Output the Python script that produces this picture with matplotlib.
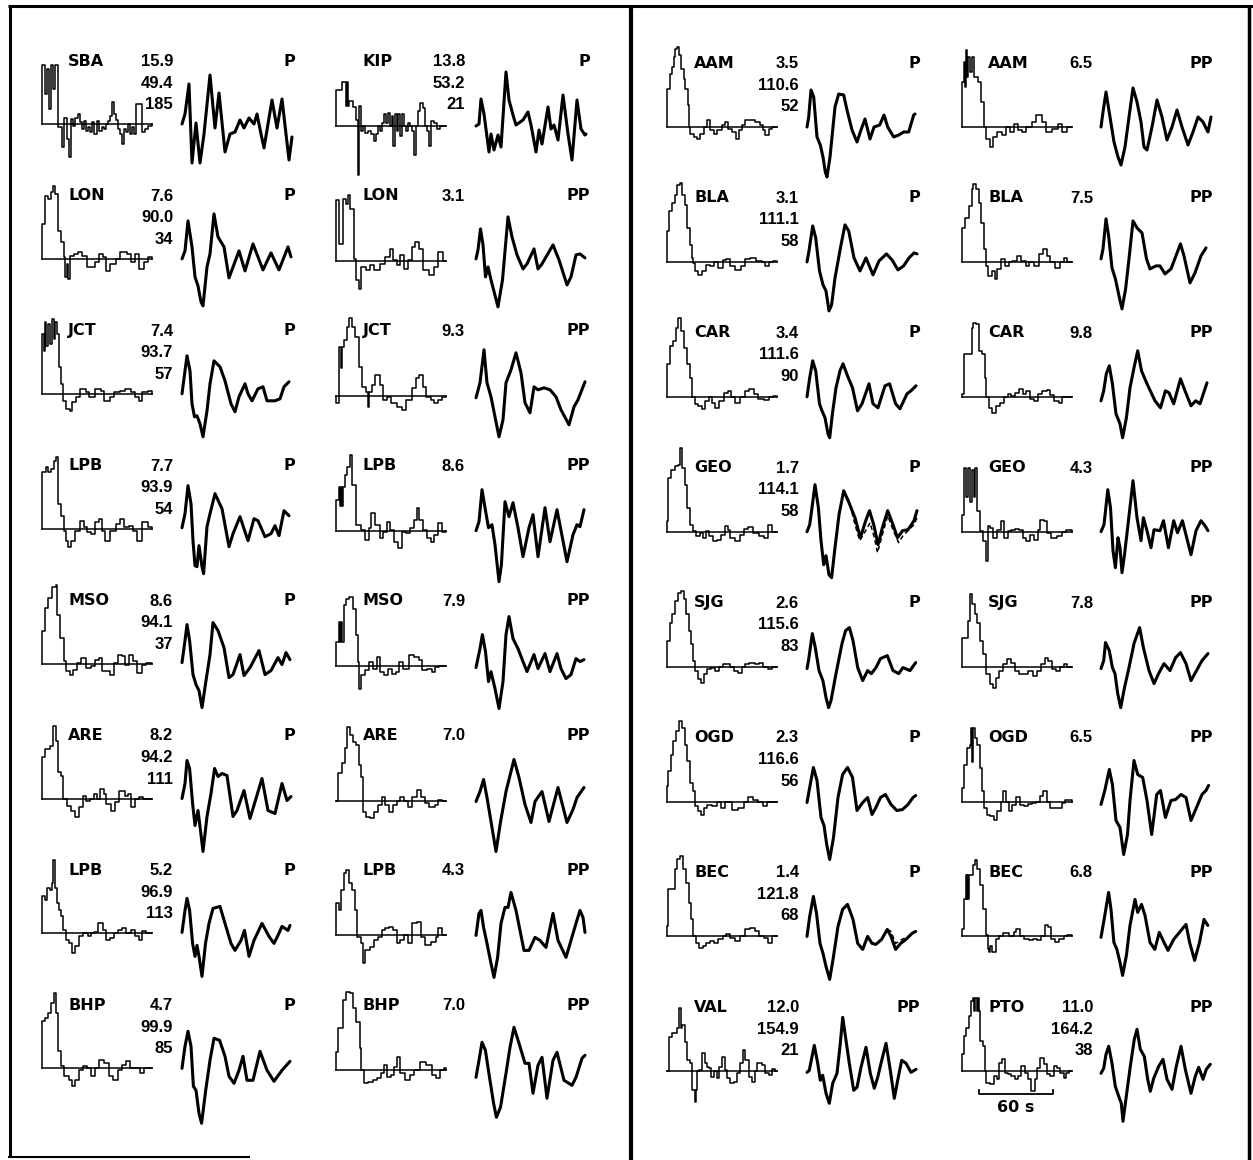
import matplotlib
matplotlib.use('Agg')
import matplotlib.pyplot as plt

W, H = 1253, 1160

# ---- station labels ----
col1_names = ['SBA', 'LON', 'JCT', 'LPB', 'MSO', 'ARE', 'LPB', 'BHP']
col2_names = ['KIP', 'LON', 'JCT', 'LPB', 'MSO', 'ARE', 'LPB', 'BHP']
col3_names = ['AAM', 'BLA', 'CAR', 'GEO', 'SJG', 'OGD', 'BEC', 'VAL']
col4_names = ['AAM', 'BLA', 'CAR', 'GEO', 'SJG', 'OGD', 'BEC', 'PTO']

col1_info = [('15.9', '49.4', '185'), ('7.6', '90.0', '34'), ('7.4', '93.7', '57'),
             ('7.7', '93.9', '54'), ('8.6', '94.1', '37'), ('8.2', '94.2', '111'),
             ('5.2', '96.9', '113'), ('4.7', '99.9', '85')]
col2_info = [('13.8', '53.2', '21'), ('3.1',), ('9.3',), ('8.6',), ('7.9',), ('7.0',),
             ('4.3',), ('7.0',)]
col3_info = [('3.5', '110.6', '52'), ('3.1', '111.1', '58'), ('3.4', '111.6', '90'),
             ('1.7', '114.1', '58'), ('2.6', '115.6', '83'), ('2.3', '116.6', '56'),
             ('1.4', '121.8', '68'), ('12.0', '154.9', '21')]
col4_info = [('6.5',), ('7.5',), ('9.8',), ('4.3',), ('7.8',), ('6.5',), ('6.8',),
             ('11.0', '164.2', '38')]

col1_phase = ['P'] * 8
col2_phase = ['P'] + ['PP'] * 7
col3_phase = ['P'] * 7 + ['PP']
col4_phase = ['PP'] * 8

# ---- source time functions: (time, amplitude) steps ----
col1_stf = [
    [(0, 59), (3, 30), (5, 55), (7, 15), (9, 59), (11, 35), (13, 59), (16, -3), (20, -23), (22, 6),
     (25, -15), (27, -33), (29, 5), (31, -2), (33, 6), (36, 10), (38, 2), (40, -5), (42, 3), (44, -7),
     (46, -3), (48, -8), (50, 2), (52, -10), (55, 3), (57, -7), (60, -3), (62, -5), (64, 0), (66, 3),
     (68, 8), (70, 22), (72, 10), (74, 4), (76, -5), (78, -10), (80, -20), (82, -5), (84, -8), (86, 0),
     (88, -10), (90, -3), (92, -10), (94, 20), (100, -8), (103, -5), (106, -2)],
    [(0, 35), (3, 63), (6, 60), (9, 67), (11, 73), (13, 65), (16, 28), (19, 17), (22, 2), (23, -18),
     (25, -5), (26, -20), (28, 3), (32, 5), (36, 7), (40, 3), (45, -8), (53, -3), (57, 5), (61, 2),
     (64, -12), (68, -5), (74, 0), (78, 7), (85, 5), (89, -3), (93, 5), (97, -10), (102, -3), (106, 2)],
    [(0, 60), (2, 43), (3, 72), (4, 48), (6, 70), (8, 50), (10, 75), (12, 55), (13, 72), (15, 60),
     (17, 27), (19, 10), (21, -7), (24, -15), (28, -17), (30, -8), (34, -3), (38, 5), (44, 2), (47, -3),
     (53, 5), (59, 3), (62, -7), (68, -3), (72, 2), (78, 3), (83, 5), (89, 2), (93, -3), (97, -7),
     (100, 2), (106, 3)],
    [(0, 57), (4, 62), (6, 57), (9, 60), (12, 68), (14, 72), (16, 25), (19, 13), (22, -2), (24, -12),
     (26, -18), (29, -12), (33, -2), (38, 8), (42, 2), (45, -3), (49, -5), (53, 7), (57, 10), (60, -2),
     (63, -12), (68, -2), (74, 5), (78, 10), (82, 2), (87, 3), (91, -2), (95, -12), (100, 7), (106, 2)],
    [(0, 33), (3, 56), (6, 66), (10, 77), (14, 79), (15, 49), (18, 26), (22, 3), (24, -7), (28, -11),
     (31, -6), (35, 1), (39, 6), (44, -4), (49, -2), (53, 4), (57, 6), (60, -7), (64, -7), (68, -11),
     (72, 1), (76, 9), (80, 8), (83, -1), (87, 9), (91, 3), (95, -9), (100, -1), (104, 1)],
    [(0, 42), (3, 50), (8, 53), (11, 73), (14, 58), (16, 27), (19, 23), (21, 0), (25, -7), (29, -12),
     (33, -18), (37, -8), (41, 3), (44, -2), (48, 0), (52, 5), (55, 0), (58, 10), (62, 5), (64, -5),
     (69, -12), (73, -3), (77, 8), (83, 3), (86, 5), (89, -8), (93, 0), (97, 2), (101, 0)],
    [(0, 37), (3, 33), (5, 45), (8, 43), (10, 50), (11, 73), (13, 45), (15, 30), (17, 23), (19, 17),
     (21, 3), (24, -7), (27, -10), (30, -20), (33, -13), (37, -3), (41, 0), (46, -3), (49, 0), (52, 1),
     (56, 10), (61, 3), (64, -7), (68, -5), (72, 0), (76, 3), (80, 5), (84, 0), (89, 3), (93, -3),
     (97, -7), (100, 2), (104, 0)],
    [(0, 47), (3, 50), (6, 55), (9, 65), (12, 75), (14, 55), (16, 17), (19, 2), (22, -8), (27, -12),
     (30, -18), (33, -12), (37, -2), (41, 2), (45, 0), (49, -8), (53, 0), (57, 8), (62, 5), (67, -8),
     (71, -12), (76, -2), (80, 3), (84, 7), (88, 0), (92, 0), (98, -5), (102, 0)],
]

col2_stf = [
    [(0, 36), (6, 44), (10, 20), (11, 44), (12, 20), (13, 25), (17, 19), (20, 6), (22, -49), (23, 20),
     (25, -5), (27, 0), (29, -7), (32, -5), (35, -8), (38, -15), (40, -8), (42, 0), (44, -5), (46, 3),
     (48, 12), (50, 3), (52, 13), (54, 0), (56, 10), (57, -20), (59, 12), (61, -5), (62, 12), (64, -10),
     (66, 12), (68, 0), (70, -5), (72, 3), (74, 0), (76, -5), (78, -29), (80, 0), (82, 15), (84, 23),
     (87, 18), (89, 0), (91, -5), (93, -20), (95, 5), (98, 3), (101, -3), (104, 0)],
    [(0, 61), (3, 17), (7, 62), (9.5, 57), (12, 66), (14, 52), (18, 2), (20, -19), (23, -28), (25, -6),
     (30, -9), (34, -4), (38, -9), (44, -3), (49, 4), (54, 12), (57, 1), (61, -4), (64, 6), (68, -8),
     (72, 1), (76, 14), (79, 19), (83, 12), (87, -9), (93, -14), (98, -6), (102, 9), (107, 0)],
    [(0, -7), (3, 49), (5, 28), (6, 49), (8, 56), (11, 69), (13, 78), (16, 69), (19, 59), (23, 29),
     (26, 9), (30, 4), (32, -11), (33, 4), (36, 11), (39, 21), (44, 11), (47, -4), (51, -1), (55, -7),
     (61, -11), (66, -14), (70, -4), (76, 8), (80, 18), (83, 21), (87, 9), (90, -1), (95, -4),
     (98, -7), (102, -4), (106, -1)],
    [(0, 31), (3, 44), (4, 25), (5, 44), (6, 25), (7, 44), (9, 56), (11, 64), (14, 76), (16, 46),
     (20, 6), (25, 1), (29, -9), (33, 3), (35, 18), (39, 6), (44, -7), (47, -1), (51, 9), (54, 1),
     (58, -11), (62, -17), (66, -1), (70, -2), (74, 3), (78, 11), (81, 23), (83, 11), (87, 1), (91, -7),
     (95, -11), (98, -4), (102, 8), (106, -1)],
    [(0, 24), (3, 44), (4, 24), (5, 44), (6, 24), (8, 61), (10, 67), (13, 69), (17, 57), (20, 31),
     (22, 4), (23, -23), (25, -9), (29, -4), (33, 4), (37, -3), (41, 9), (44, -6), (48, -9), (52, -3),
     (56, -8), (60, -6), (63, 4), (67, -3), (73, 11), (78, 9), (83, 6), (86, -4), (91, -3), (96, -6),
     (99, -1), (103, 0)],
    [(0, 0), (2, 28), (6, 38), (9, 53), (11, 74), (14, 66), (17, 59), (20, 56), (23, 36), (25, 24),
     (27, -11), (30, -16), (34, -17), (38, -11), (42, -4), (46, 4), (49, -4), (53, -11), (57, -4),
     (61, 0), (64, 4), (68, 0), (72, -6), (76, 4), (81, 11), (85, 4), (89, -2), (93, -6), (99, -4),
     (102, 1), (106, 0)],
    [(0, 32), (3, 25), (5, 45), (8, 62), (9.5, 65), (12.5, 52), (16, 45), (19, 25), (21, -2), (25, -8),
     (27, -28), (28.5, -15), (34, -12), (38, -5), (42, -2), (46, 5), (49, 7), (53, 8), (57, 5),
     (61, -8), (64, -5), (68, 0), (72, -8), (76, 12), (81, 13), (85, -2), (89, -10), (95, -7),
     (100, -2), (102, 7), (106, 0)],
    [(0, 18), (2, 42), (7, 70), (10, 78), (14, 77), (17, 62), (20, 48), (24, 22), (25, 0), (28, -13),
     (32, -12), (37, -10), (41, -8), (45, -3), (48, 5), (51, -7), (55, -5), (58, 3), (61, 13),
     (64, -3), (69, -10), (74, -5), (78, 0), (84, 8), (90, 5), (96, -5), (100, -8), (104, 0), (108, 2)],
]

col3_stf = [
    [(0, 38), (3, 53), (5, 60), (7, 70), (8, 78), (10, 80), (12, 72), (14, 58), (17, 48), (18, 38),
     (21, 22), (22, 0), (23, -7), (27, -10), (30, -12), (33, -7), (37, 0), (40, 7), (43, -3), (47, -7),
     (50, -3), (55, 2), (58, 5), (61, -2), (65, -5), (69, -12), (72, -3), (75, 2), (78, 7), (83, 7),
     (88, 5), (93, 2), (96, -3), (98, -8), (102, -2), (105, 0)],
    [(0, 31), (2, 51), (5, 59), (8, 67), (10, 77), (13, 79), (15, 67), (18, 57), (20, 34), (23, 17),
     (25, 4), (26.5, -1), (28, -9), (31, -13), (35, -9), (39, -3), (43, -4), (47, 0), (51, -6), (56, 2),
     (59, 3), (62.5, -4), (68, -8), (74, -4), (78, 3), (83, 4), (89, 1), (95, 0), (98, -4), (102, 0),
     (106, 1)],
    [(0, 33), (3, 51), (6, 56), (9.5, 69), (11, 79), (14, 66), (17, 49), (20, 33), (23, 19), (25, 0),
     (28, -7), (31, -9), (35, -12), (38, -4), (42, 0), (45.5, -6), (48, -11), (52, -4), (57, 4),
     (61, 6), (64, 0), (68, -6), (73, 0), (78, 6), (82, 8), (87, 3), (91, -2), (97, -3), (102, 0),
     (106, 1)],
    [(0, 11), (1.5, 54), (4, 62), (7.6, 66), (11, 67), (13, 84), (15, 64), (18, 47), (20.5, 24),
     (23.5, 7), (26.5, 1), (29, -4), (33, -1), (35.6, -6), (38.6, 1), (42, -4), (46, -9), (50, -8),
     (54, -3), (57.6, 6), (60.6, 2), (63, -6), (68, -9), (72.7, -3), (77, 3), (81, 5), (86, -1),
     (91.7, -4), (97, -6), (101, 7), (105, 0)],
    [(0, 26), (3, 44), (5, 53), (8, 66), (11, 74), (14, 76), (17, 68), (19, 53), (21.6, 36), (24, 23),
     (26.5, 6), (28, -4), (31, -12), (34, -16), (36.7, -7), (40.5, -2), (44, -1), (48, -4), (52, 0),
     (56, 3), (59.5, 3), (63, 0), (67, -4), (71, -6), (74.6, 0), (78.4, 3), (82, 4), (88, 3),
     (91.7, 4), (95.5, 0), (101, -2), (105, 0)],
    [(0, 16), (1.5, 31), (4, 47), (6.4, 61), (9, 71), (12, 81), (15, 74), (18, 57), (20.5, 41),
     (23.5, 19), (26.5, 11), (28, -4), (31, -9), (34, -13), (36.7, -6), (40.5, -3), (45.5, -4),
     (50, 0), (54, -6), (57.6, 0), (61.4, 0), (65, -8), (70.8, -6), (76.5, 0), (81, 5), (86, 2),
     (91, 0), (95.5, -4), (100, 0), (105, 0)],
    [(0, 10), (1.5, 47), (4.5, 47), (7.6, 67), (10, 77), (13, 80), (16, 67), (19, 53), (21.6, 33),
     (24, 17), (26.5, 0), (29, -7), (32, -12), (35.6, -10), (39.4, -7), (43, -5), (47, -7), (51, -3),
     (55.7, 0), (59.5, 2), (63, -2), (68, -5), (72.7, 0), (78.4, 7), (83.3, 8), (88, 5), (92.4, 0),
     (97, -2), (101, -7), (105, 0)],
    [(0, 0), (2.3, 34), (5, 38), (10, 43), (12.3, 63), (14, 43), (15, 46), (17.7, 29), (20, 11),
     (23.3, 8), (25, -19), (27.7, -31), (29, -19), (30, 0), (31.7, 1), (35, 18), (37.7, 8), (40, 4),
     (41.7, 3), (44.3, -6), (46.7, 0), (50, -7), (52.3, 4), (55, 14), (57.7, 1), (60, -7), (63.3, -12),
     (66.7, -11), (70, -2), (73.3, 8), (75.7, 21), (78.3, 11), (81.7, -6), (85, -11), (87.7, 0),
     (90, 8), (95, 6), (98.3, -2), (101.7, -4), (105, 2), (107.7, 0)],
]

col4_stf = [
    [(0, 45), (2, 65), (3, 40), (4, 77), (5, 50), (6, 70), (8, 55), (10, 70), (12, 50), (16, 45),
     (19, 25), (22, 0), (24, -12), (28, -20), (31, -10), (35, -5), (40, -8), (44, 0), (48, -5),
     (52, 3), (56, -3), (60, -5), (64, 0), (70, 5), (74, 12), (80, 5), (84, -5), (90, -2), (96, 3),
     (100, -5), (105, 0)],
    [(0, 34), (3, 44), (7, 56), (10, 73), (11.4, 78), (14.4, 73), (17.4, 59), (19, 39), (22, 13),
     (24, -4), (25.8, -14), (29.5, -9), (32.6, -17), (35, -7), (39, 3), (43, -4), (46.6, 0), (50, 1),
     (55, 6), (59, 1), (63.6, -4), (67.4, 0), (72, -4), (77, 8), (80.7, 13), (84.5, 6), (88, 0),
     (93, -6), (97.7, 0), (101.5, 4), (105, 0)],
    [(0, 3), (2, 43), (5.7, 43), (9.5, 69), (11.4, 74), (14, 73), (17, 46), (20, 43), (22.7, 19),
     (24, 0), (26.5, -11), (30, -16), (34, -9), (38, -6), (41.7, 0), (45.5, 3), (49, 1), (53, 4),
     (57, 8), (60.6, 3), (64, 6), (68, -2), (72, -4), (76, 3), (79.5, 6), (84.5, 7), (88, 2),
     (92, -4), (96.6, -6), (100, 0)],
    [(0, 17), (2, 64), (4, 35), (6, 64), (8, 30), (10, 62), (12, 35), (13, 64), (15, 21), (17.8, 1),
     (21, -9), (24, -29), (25.8, 6), (28.4, 4), (31.4, -6), (35, 2), (39, 11), (41.7, -6), (45.5, 1),
     (49, 2), (53, 3), (57, 2), (60.6, -6), (64.4, -9), (68, -3), (72, -8), (76, 2), (77.7, 12),
     (82, 11), (84.5, -1), (89, -6), (94.7, -4), (100, 0), (104, 2)],
    [(0, 29), (6, 46), (7.6, 73), (10, 63), (12.5, 53), (15, 44), (18, 26), (21, 13), (24, -7),
     (27.7, -17), (31.4, -21), (34, -11), (37, -4), (41, 3), (44.7, 8), (48.5, 4), (53, -4), (57, -7),
     (61.7, -7), (65.5, -4), (70.5, -9), (75, -4), (78.8, 3), (82.6, 9), (86, 6), (90, -2), (94, -4),
     (97.7, 0), (101.5, 3), (105, 0)],
    [(0, 14), (2, 37), (5, 54), (7.6, 57), (9, 74), (10, 40), (11, 74), (12.5, 64), (15, 57),
     (17.8, 34), (20, 11), (21.6, -6), (24.6, -13), (28.4, -14), (32, -18), (35, -9), (39, 0),
     (40.5, 11), (43.6, 0), (46.6, -9), (50, -3), (54, 5), (58, -3), (61.7, -4), (66, -2), (70, -1),
     (74, 0), (77.7, 6), (80.7, 11), (84.5, 0), (88, -6), (94.7, -6), (100, -1), (103, 2)],
    [(0, 7), (2.3, 37), (3.8, 61), (4.5, 37), (5.3, 61), (6, 37), (7, 61), (10.6, 71), (13, 76),
     (15, 67), (18, 51), (21, 27), (24, 1), (25.8, -13), (27, -16), (28.4, -10), (29.5, -16),
     (34, -3), (37, 0), (41, 3), (46.6, 0), (51.5, 4), (54, 7), (58, 0), (61.7, -3), (66.7, -4),
     (71, -3), (75, -4), (78.8, 0), (82.6, 11), (86, 9), (89, -3), (93, -6), (97, -3), (101.5, 0),
     (105, 1)],
    [(0, 17), (1.7, 35), (4, 43), (6.7, 55), (9.3, 70), (10.7, 73), (12, 60), (13.3, 73), (15, 60),
     (16, 73), (16.7, 60), (18.3, 30), (20.7, 25), (22.7, 0), (24, -12), (28.3, -13), (31.7, -5),
     (35, -8), (36.7, 8), (40, 12), (42.7, -2), (46, -3), (49.3, -5), (52.7, -8), (56, -5), (59.3, 5),
     (62.7, -2), (66, -8), (69.3, -20), (72.7, -8), (75, 3), (78.3, 13), (81.7, 7), (85, -3),
     (88.3, -5), (91.7, 5), (95, 3), (98.3, -2), (101.7, -7), (104, -2), (106.7, 0)],
]

# ---- observed seismograms: (time, amplitude) ----
col1_wave = [
    [(0, 0), (3, 10), (7, 40), (10, -39), (14, 1), (18, -39), (22, -10), (28, 49), (33, -4), (37, 31),
     (43, -28), (48, -10), (53, -8), (58, 4), (62, -4), (67, 6), (72, 0), (75, 10), (79, -10),
     (82, -24), (90, 24), (95, -4), (100, 25), (104, -10), (107, -36), (110, -13)],
    [(0, 0), (3, 8), (6, 38), (10, 12), (13, -18), (16, -27), (19, -43), (21, -47), (25, -8), (28, 5),
     (32, 45), (36, 22), (42, 12), (47, -19), (57, 8), (63, -12), (71, 15), (81, -11), (89, 6),
     (97, -11), (106, 12), (109, 2)],
    [(0, 0), (3, 23), (5, 38), (8, 23), (10, -10), (12.5, -23), (15, -22), (18, -30), (21, -43),
     (25, -17), (28, 10), (32, 33), (38, 27), (43, 13), (49, -10), (53, -18), (57, -3), (63, 10),
     (66, 0), (70, -7), (76, 5), (81, 7), (85, -7), (93, -7), (98, -5), (102, 7), (107, 12)],
    [(0, 1), (3, 15), (6, 43), (9, 25), (11, -12), (13, -37), (15, -38), (17, -17), (20, -38),
     (21.6, -45), (25, 2), (28, 15), (33, 35), (40, 20), (47, -18), (51, -5), (58, 12), (62, 0),
     (66, -12), (72, 10), (76, 8), (83, -8), (89, -5), (93, 3), (97, -7), (102, 18), (107, 13)],
    [(0, 1), (3, 23), (5, 39), (7.6, 23), (11, -11), (14, -21), (17, -27), (20, -44), (24, -17),
     (28, 9), (31, 41), (36, 33), (42, 16), (47, -14), (51, -11), (58, 9), (62, -12), (68, -4),
     (77, 13), (83, -11), (89, -7), (96, 6), (100, -1), (104, 11), (108, 4)],
    [(0, 0), (3, 15), (5, 38), (7.6, 30), (10.6, -5), (13, -27), (16, -12), (18, -28), (21, -53),
     (25, -18), (29, 5), (32.6, 30), (36, 22), (40, 25), (45, 23), (51, -18), (55, -12), (62, 8),
     (68, -20), (80, 20), (86, -12), (93, -15), (100, 15), (105, -2), (109, 2)],
    [(0, 1), (3, 23), (5, 35), (7.6, 23), (10.6, -10), (13, -23), (15, -12), (17, -23), (20, -43),
     (23.5, -10), (27, 10), (31, 25), (38, 27), (43, 10), (49, -10), (53, -17), (59, -7), (62.5, 3),
     (67, -23), (72, -7), (80, 10), (87, -3), (92, -10), (95.5, -3), (100, 7), (106, 3), (108, 8)],
    [(0, 0), (3, 22), (6, 37), (9, 22), (11.4, -18), (14, -22), (17, -45), (19.6, -55), (23.7, -22),
     (28, 8), (32, 30), (37.6, 28), (43, 12), (47, -8), (52, -15), (57, -2), (61, 12), (65, -12),
     (71, -12), (78, 17), (85, -2), (92, -13), (100, -2), (108, 7)],
]

col2_wave = [
    [(0, 0), (3, 2), (5, 27), (8, 12), (13, -26), (15, -8), (18, -24), (22, -9), (25, -21), (30, 54),
     (33, 26), (37, 11), (40, 1), (47, 6), (52, 14), (55, 1), (60, -26), (63, -4), (66, -18), (72, 19),
     (75, -3), (78, 1), (82, -14), (87, 31), (92, -8), (96, -34), (101, 26), (105, -3), (109, -9),
     (110, -8)],
    [(0, 2), (2, 11), (4.5, 32), (7, 16), (9.5, -16), (12, -6), (15, -19), (22, -46), (26.5, -19),
     (32, 44), (36, 24), (41, 6), (47, -8), (51, -3), (58, 12), (62, -8), (66, -3), (77, 16), (83, 1),
     (91, -24), (95, -16), (100, 6), (104, 7), (109, 3)],
    [(0, -2), (4, 13), (8, 46), (11, 13), (15, -1), (19, -21), (23, -41), (27, -24), (30, 13), (35, 26),
     (40, 43), (45, 23), (49, -7), (54, -17), (58, 9), (62, 6), (68, 8), (74, 6), (80, -1), (85, -14),
     (93, -29), (98, -11), (102, -4), (109, 14)],
    [(0, 0), (3, 9), (6, 41), (9, 23), (12.5, 3), (16, 6), (19, -14), (23, -51), (25.4, -34), (29, 29),
     (33, 14), (37, 28), (42, 3), (47, -26), (53, 3), (57, 16), (62, -26), (69, 23), (74, -11),
     (81, 21), (91, -31), (97, -4), (101, 6), (104, 4), (108, 21)],
    [(0, -2), (4, 17), (6.4, 31), (9.5, 14), (12.5, -16), (15, -6), (19, -23), (23, -43), (27, -16),
     (30, 31), (33, 49), (37, 27), (42, 17), (47, 4), (51, -6), (58, 11), (62, -3), (69, 12), (74, -6),
     (81, 12), (85, -3), (90, -13), (95, -9), (100, 7), (104, 4), (108, 6)],
    [(0, -1), (4, 9), (7.6, 21), (11, 3), (15, -21), (20, -51), (24.6, -21), (30, 9), (38, 41),
     (43, 23), (49, -4), (55, -22), (59, -1), (66, 9), (73, -21), (82, 13), (91, -22), (97, -9),
     (101, 3), (108, 13)],
    [(0, 0), (3, 22), (5, 25), (7.6, 8), (11, -8), (15, -28), (18, -42), (21.6, -22), (25, 12),
     (29, 28), (32, 28), (35, 43), (40, 25), (44, 5), (48, -15), (53, -15), (59, -2), (64, -5),
     (70, -12), (77, 22), (82, -5), (90, -22), (95, -5), (100, 12), (104, 25), (107, 18), (109, 3)],
    [(0, -7), (3, 10), (6, 28), (9.4, 20), (13.5, -7), (17.6, -33), (20.4, -47), (24.5, -37), (30, -3),
     (34, 23), (38, 43), (43, 27), (49, 7), (53, 7), (57, -23), (62, 5), (66, 13), (71, -28), (77, 10),
     (81, 18), (88, -10), (96, -15), (100, -7), (106, 12), (109, 15)],
]

col3_wave = [
    [(0, 0), (1.7, 10), (4, 37), (6.7, 30), (10, -10), (13.3, -18), (16, -30), (18.3, -45), (20, -50),
     (23, -30), (28, 20), (31.7, 33), (36.7, 32), (40, 17), (45, -3), (50, -15), (54, -3), (58, 8),
     (63, -12), (67, 0), (72.7, 2), (77, 12), (80.7, 0), (86.7, -10), (91.7, -8), (96.7, -5),
     (101.7, -5), (106.7, 12), (108, 13)],
    [(0, 0), (2, 11), (5.7, 36), (8.7, 24), (12.5, -9), (16, -23), (19, -29), (22, -49), (24.6, -43),
     (28, -16), (34, 17), (38, 37), (41.7, 31), (47, 4), (53, -9), (59, 4), (66, -13), (72, 1),
     (79.5, 8), (85, 2), (91, -8), (96.6, -4), (102, 4), (107, 9), (110, 8)],
    [(0, 0), (2.7, 19), (5.7, 36), (8.7, 26), (12.5, -7), (15, -14), (18, -21), (21, -37), (22.7, -41),
     (25.4, -17), (29, 9), (33, 26), (36, 33), (40.5, 21), (45.5, 9), (50.5, -14), (55, -7), (62, 13),
     (66, -7), (71, -11), (78, 11), (82.6, 13), (88.6, -7), (93, -12), (100, 3), (104, 6), (109, 11)],
    [(0, 0), (2.7, 7), (5, 24), (8, 47), (11.4, 24), (14, -9), (16.7, -33), (19, -24), (22, -43),
     (24.6, -46), (28, -16), (32, 17), (36.7, 41), (42, 29), (48, 14), (53.4, -6), (58.7, 11),
     (62.5, 21), (67, 6), (71, -13), (75.4, 4), (80.7, 21), (86, 7), (90.5, -6), (95.6, 1), (101, 2),
     (107, 11), (110, 21)],
    [(0, -2), (1.5, 6), (5.3, 33), (8.3, 19), (12, -4), (15.9, -14), (19, -31), (21.6, -41), (24, -34),
     (29, -7), (35, 23), (38.6, 36), (42.4, 39), (46, 26), (50.7, -1), (55.7, -14), (60.6, -4),
     (64.4, -7), (69, -1), (73.5, 8), (80.3, 11), (86, -4), (91.7, -7), (96, -1), (103, -4),
     (108.7, 4)],
    [(0, -1), (2.7, 14), (6.4, 34), (10, 21), (14, -16), (17, -24), (19.7, -43), (22.7, -58),
     (26.5, -36), (31, 4), (35.6, 27), (40.5, 34), (45.5, 24), (50, -9), (55.7, -1), (60.6, 4),
     (65, -13), (68.9, -6), (73.5, 4), (78.4, 7), (84, -3), (89.8, -9), (95.5, -8), (101, -3),
     (106, 4), (108.7, 6)],
    [(0, 0), (2.7, 20), (6.4, 40), (9.5, 23), (13, -7), (16, -17), (19, -30), (22.7, -43), (26.5, -20),
     (31, 10), (35.6, 27), (40.5, 32), (46, 17), (50.7, -7), (55.7, -13), (60.6, 0), (65, -7),
     (68.9, -8), (74.6, -3), (80.3, 7), (84, 0), (88.6, -13), (93.6, -7), (99, -3), (105, 3),
     (108.7, 5)],
    [(0, -1), (2.3, 1), (4.7, 13), (7.3, 26), (10.7, 8), (13.3, -9), (15.7, -4), (19, -22), (22.3, -32),
     (25.7, -12), (30, -2), (33.3, 28), (35.7, 54), (39, 31), (42.3, 8), (46.7, -19), (50, -16),
     (54, 4), (59, 24), (63.3, -2), (67.3, -17), (70.7, -6), (74, 8), (79, 28), (83.3, 1), (87.3, -27),
     (90.7, -9), (94.7, 11), (99, 8), (104, -1), (109, 2)],
]

col4_wave = [
    [(0, 0), (2, 15), (5, 35), (9, 10), (13, -15), (17, -30), (20, -38), (24, -20), (28, 10), (32, 39),
     (36, 25), (40, 5), (43, -20), (46, -23), (51, 0), (56, 27), (61, 10), (66, -13), (71, 0),
     (76, 17), (81, 0), (87, -18), (92, -5), (97, 10), (102, 5), (107, -5), (110, 10)],
    [(0, 3), (2, 13), (5, 43), (7.6, 26), (11, -6), (14.4, -17), (18, -34), (21, -47), (24.6, -27),
     (28, 3), (32, 41), (36, 34), (41, 29), (45.5, 3), (49, -7), (55, -4), (59, -4), (64, -12),
     (70, -7), (79.5, 18), (83, 6), (89, -21), (94, -11), (100, 6), (105, 14)],
    [(0, -4), (2.7, 6), (5.3, 23), (8.3, 31), (11.4, 13), (15, -17), (19, -27), (21.6, -41),
     (25.4, -21), (29, 9), (33, 29), (36.7, 46), (40.5, 26), (46, 13), (54, -4), (59.5, -11),
     (64.4, 6), (68, 4), (72.7, -7), (79.5, 18), (84, 6), (90, -9), (94.7, -4), (99, -7), (106, 14)],
    [(0, 0), (3, 7), (6.8, 42), (9.5, 24), (12, -19), (14.4, -36), (17, -6), (19, -16), (21, -41),
     (23.5, -23), (27, 7), (32, 51), (36, 14), (40, -9), (42.4, 14), (46, 1), (50, -16), (53, 2),
     (59, 1), (62.5, 11), (67.4, -16), (72.7, 11), (76.5, -1), (81.4, 11), (90, -23), (95, 1),
     (100, 11), (104, 6), (107, 1)],
    [(0, -2), (2.7, 6), (4.5, 24), (8.3, 16), (11.4, -1), (14, -7), (16.7, -27), (19.7, -41),
     (23.5, -21), (28, -1), (33, 23), (38.6, 39), (42.4, 19), (48, -4), (53, -17), (57.6, -7), (63, 3),
     (69, -4), (74.6, 9), (79.5, 14), (85, 3), (90, -14), (95.5, -4), (101, 6), (107, 13)],
    [(0, -3), (3.8, 11), (8.3, 32), (11.4, 17), (15, -19), (19, -26), (22.7, -53), (26.5, -33),
     (29, 1), (33, 41), (36.7, 27), (41.7, 24), (46, 1), (50.7, -33), (55.7, 7), (59.5, 11),
     (64.4, -16), (70, 1), (74.6, 2), (80, 7), (85, 4), (90, -19), (95.5, -6), (101, 7), (105, 11),
     (107.6, 16)],
    [(0, -1), (3.8, 21), (7.6, 44), (10, 27), (12.9, -6), (15.9, -13), (19, -26), (21.6, -39),
     (25.4, -19), (29, 11), (34, 37), (36.7, 24), (40.5, 32), (44, 21), (49, -6), (53.8, -13),
     (58.3, 4), (63, -6), (67, -14), (72.7, -3), (78.4, 4), (85, 12), (88.6, -6), (93.6, -24),
     (98.5, -6), (103, 17), (106.8, 11)],
    [(0, -2), (2.7, 3), (5, 17), (7.7, 25), (11, 8), (14.3, -15), (17.7, -25), (20.3, -32), (22, -50),
     (25.3, -25), (29.3, 5), (33.3, 32), (36, 42), (39.3, 22), (43.3, 15), (46.7, -8), (49.3, -20),
     (52.7, -7), (57.7, 5), (62, 12), (66, -8), (71, -18), (75.3, 5), (80, 25), (84.3, 2), (90, -22),
     (94.3, -5), (97.7, 4), (102, -8), (105.3, 2), (109.3, 7)],
]

# synthetic traces where they separate from the observed ones (dashed)
geo_p_synth = [(36.7, 41), (42, 31), (48, 7), (52.7, -9), (58.7, 1), (63, 9), (67.4, -6), (70.5, -21),
               (75.4, -3), (80.7, 16), (86, 2), (91.6, -11), (96, -4), (101, 1), (107, 7), (110, 14)]
bec_p_synth = [(80.3, 7), (84, 5), (88.6, -7), (95, -3), (101, 0), (106, 3)]

# 60 s scale bar under PTO source function (time axis units)
scale_bar = (17, 91)

# ---- layout (pixels) ----
stf_x = [42, 336, 667, 962]
wave_x = [182, 476, 807, 1101]
name_x = [68, 363, 694, 988]
num_x = [173, 465, 799, 1093]
phase_x = [295, 590, 920, 1213]
label_y0 = [60, 60, 62, 62]
base_y0 = [124, 126, 127, 127]
pitch = 134.9

name_font = dict(family='DejaVu Sans', weight='bold', size=11.5)
num_font = dict(family='Liberation Sans', weight='bold', size=12)

fig = plt.figure(figsize=(W / 100, H / 100), dpi=100)
bg = fig.add_axes([0, 0, 1, 1])
bg.set_xlim(0, W)
bg.set_ylim(H, 0)
bg.axis('off')

# frame
bg.plot([8, W], [5.5, 5.5], color='k', lw=2.2, solid_capstyle='butt')
bg.plot([9.5, 9.5], [5, 1157], color='k', lw=2.2, solid_capstyle='butt')
bg.plot([631, 631], [5, H], color='k', lw=3, solid_capstyle='butt')
bg.plot([1249, 1249], [5, H], color='k', lw=2.5, solid_capstyle='butt')
bg.plot([8, 250], [1157, 1157], color='k', lw=1.5, solid_capstyle='butt')


def panel_axes(x0, base):
    ax = fig.add_axes([x0 / W, 1 - (base + 70) / H, 110 / W, 160 / H])
    ax.set_xlim(0, 110)
    ax.set_ylim(-70, 90)
    ax.axis('off')
    return ax


def draw_stf(ax, pairs):
    t = [0] + [p[0] for p in pairs] + [110]
    a = [0] + [p[1] for p in pairs] + [0]
    ax.plot([0, 110], [0, 0], color='k', lw=1.1, clip_on=False)
    ax.step(t, a, where='post', color='k', lw=1.1, clip_on=False)


def draw_wave(ax, pairs, **kw):
    t = [p[0] for p in pairs]
    a = [p[1] for p in pairs]
    ax.plot(t, a, clip_on=False, solid_joinstyle='round', solid_capstyle='round', **kw)


columns = [
    (col1_names, col1_info, col1_phase, col1_stf, col1_wave),
    (col2_names, col2_info, col2_phase, col2_stf, col2_wave),
    (col3_names, col3_info, col3_phase, col3_stf, col3_wave),
    (col4_names, col4_info, col4_phase, col4_stf, col4_wave),
]

for c, (names, info, phases, stfs, waves) in enumerate(columns):
    for r in range(8):
        ly = label_y0[c] + r * pitch
        base = base_y0[c] + r * pitch
        bg.text(name_x[c], ly + 5.5, names[r], ha='left', va='baseline', **name_font)
        bg.text(phase_x[c], ly + 5.5, phases[r], ha='right', va='baseline', **name_font)
        for k, s in enumerate(info[r]):
            bg.text(num_x[c], ly + 6 + 21.5 * k, s, ha='right', va='baseline', **num_font)

        ax_s = panel_axes(stf_x[c], base)
        draw_stf(ax_s, stfs[r])
        ax_w = panel_axes(wave_x[c], base)
        draw_wave(ax_w, waves[r], color='k', lw=2.2)

        if c == 2 and r == 3:
            draw_wave(ax_w, geo_p_synth, color='k', lw=1.1, ls=(0, (3, 2)))
        if c == 2 and r == 6:
            draw_wave(ax_w, bec_p_synth, color='k', lw=1.1, ls=(0, (3, 2)))
        if c == 3 and r == 7:
            t0, t1 = scale_bar
            ax_s.plot([t0, t0, t1, t1], [-19, -23, -23, -19], color='k', lw=1.3, clip_on=False)
            ax_s.text((t0 + t1) / 2, -41, '60 s', ha='center', va='baseline', **name_font)

fig.savefig('out.png', dpi=100)
